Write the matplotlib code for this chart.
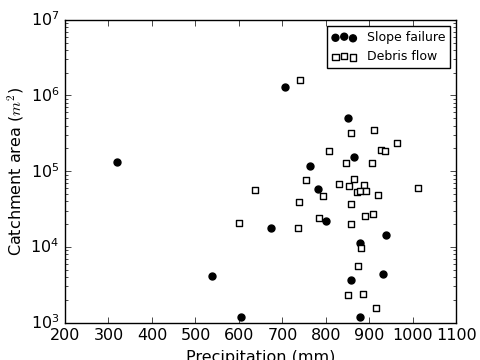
import matplotlib
matplotlib.use('Agg')
import matplotlib.pyplot as plt
import numpy as np

# slope failure events: precipitation (mm), catchment area (m^2)
slope_precip = [320, 538, 605, 706, 851, 865, 764, 781, 800, 673, 939, 879, 932, 858, 879]
slope_area = [1.31e5, 4.1e3, 1.18e3, 1.3e6, 4.98e5, 1.55e5, 1.18e5, 5.87e4, 2.18e4,
              1.78e4, 1.44e4, 1.13e4, 4.41e3, 3.65e3, 1.2e3]

# debris flow events
debris_precip = [741, 857, 910, 963, 927, 936, 808, 845, 906, 755, 865, 830, 853, 887,
                 636, 1011, 871, 879, 893, 919, 794, 739, 857, 889, 909, 783, 599, 857,
                 735, 880, 873, 886, 851, 914]
debris_area = [1.62e6, 3.2e5, 3.54e5, 2.37e5, 1.91e5, 1.83e5, 1.83e5, 1.27e5, 1.27e5,
               7.55e4, 7.8e4, 6.74e4, 6.35e4, 6.5e4, 5.7e4, 6.05e4, 5.3e4, 5.52e4, 5.5e4,
               4.89e4, 4.69e4, 3.95e4, 3.65e4, 2.59e4, 2.75e4, 2.44e4, 2.05e4, 1.99e4,
               1.75e4, 9.8e3, 5.57e3, 2.39e3, 2.29e3, 1.57e3]

plt.style.use('classic')

fig = plt.figure(figsize=(4.81, 3.6), dpi=100)
ax = fig.add_axes([0.135, 0.104, 0.814, 0.841])

ax.scatter(slope_precip, slope_area, s=25, marker='o', c='k', edgecolors='k', label='Slope failure')
ax.scatter(debris_precip, debris_area, s=22, marker='s', facecolors='w', edgecolors='k', label='Debris flow')

ax.set_yscale('log')
ax.set_xlim(200, 1100)
ax.set_ylim(1e3, 1e7)
ax.set_xticks(np.arange(200, 1101, 100))
ax.tick_params(labelsize=11.5)
ax.set_xlabel('Precipitation (mm)', fontsize=11.5)
ax.set_ylabel('Catchment area ($m^2$)', fontsize=11.5)
ax.yaxis.set_label_coords(-0.1, 0.5)
ax.legend(loc='upper right', fontsize=9)

fig.savefig('out.png', dpi=100)
